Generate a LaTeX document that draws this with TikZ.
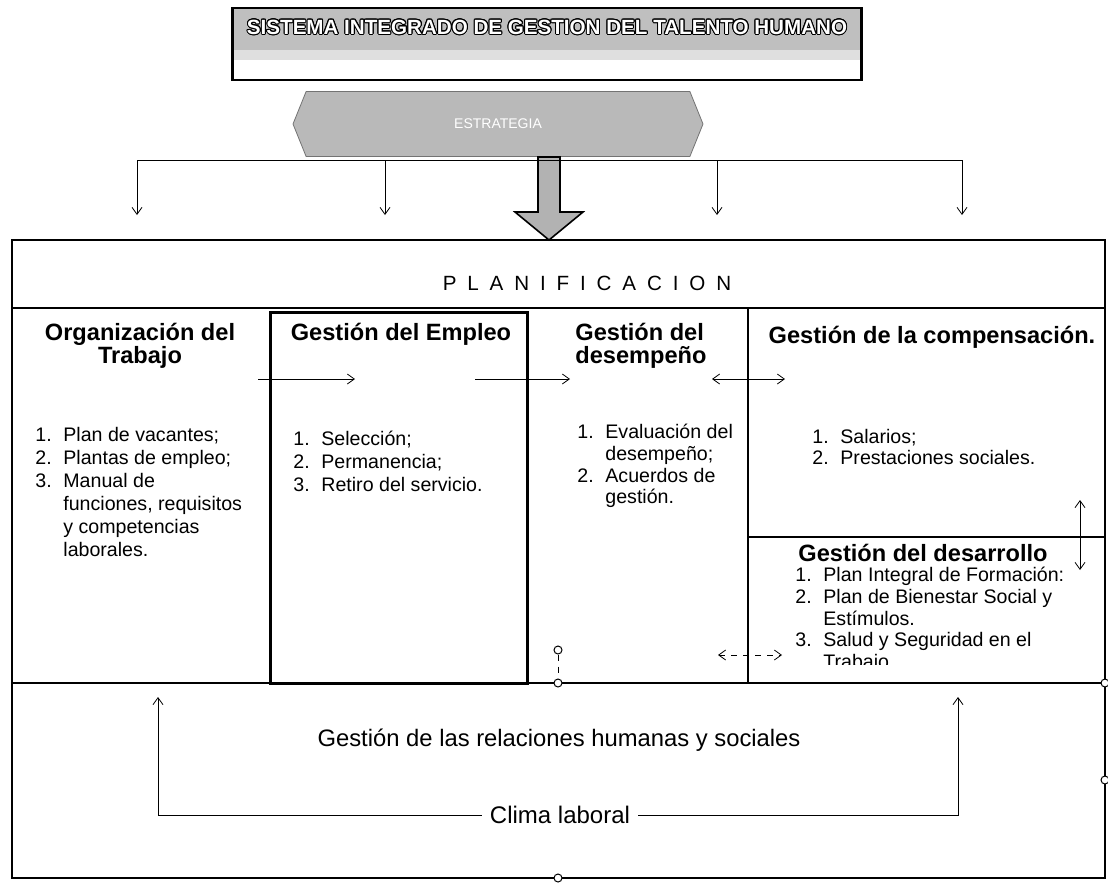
\documentclass[tikz,border=0pt]{standalone}
\usepackage{fontspec}
\setmainfont{Liberation Sans}
\newfontfamily\largofont[WordSpace=1.9]{Liberation Sans}
\usepackage{contour}
\contourlength{0.5pt}
\usetikzlibrary{arrows.meta,positioning,shapes.symbols}
\newcommand{\numlista}[1]{\makebox[14pt][l]{#1}}
\newcommand{\recuo}{\hspace*{14pt}}

\begin{document}
\begin{tikzpicture}[x=0.5pt, y=-0.5pt, > = {Straight Barb[length=3.5pt,width=5pt]}]
    \tikzstyle{caixa}=[draw, line width=1pt]
    \tikzstyle{titulo}=[font=\fontsize{11.8}{11.5}\selectfont\bfseries, align=center, inner sep=0pt]
    \tikzstyle{lista}=[font=\fontsize{9.8}{11.5}\selectfont, anchor=north west, inner sep=0pt, align=left]
    \tikzstyle{seta}=[->, line width=0.4pt]
    \tikzstyle{alca}=[circle, draw, fill=white, inner sep=0pt, minimum size=4pt, line width=0.5pt]

    \useasboundingbox (0,0) rectangle (1108,885);

    % Nós
    \node[draw, line width=1.2pt, fill=white, minimum width=314.5pt, minimum height=36pt, inner sep=0pt,
        path picture={\fill[gray!50] (path picture bounding box.north west) rectangle ([yshift=-3pt]path picture bounding box.east);
                      \fill[gray!25] ([yshift=-3pt]path picture bounding box.west) rectangle ([yshift=-8pt]path picture bounding box.east);}] (sistema) at (547,44) {};
    \node[below=3pt of sistema.north, text=white, font=\fontsize{10.3}{12}\selectfont\bfseries] (sistematxt) {\contour{black}{SISTEMA INTEGRADO DE GESTION DEL TALENTO HUMANO}};
    \node[signal, signal to=west and east, signal pointer angle=136, draw=black!55, fill=gray!55, minimum width=205pt, minimum height=32.5pt, inner sep=0pt, text=white, font=\fontsize{7}{8}\selectfont] (estrategia) at (498,124) {ESTRATEGIA};

    % Seta larga
    \draw[fill=gray!60, line width=0.8pt] (538,157) -- (538,212) -- (515,212) -- (549,240) -- (583,212) -- (560,212) -- (560,157) -- cycle;

    % Setas de cima
    \draw[line width=0.4pt] (137,160) -- (962,160);
    \foreach \x/\n in {137/a,385/b,717/c,962/d}{
        \coordinate (cima\n) at (\x,160);
        \coordinate (baixo\n) at (\x,215);
        \draw[seta] (cima\n) -- (baixo\n);
    }

    % Caixas
    \draw[caixa] (12,240) rectangle (1105,878);
    \draw[caixa] (12,308) -- (1105,308);
    \draw[caixa] (12,683) -- (1105,683);
    \draw[draw, line width=1.5pt] (270,312) rectangle (527,683);
    \draw[caixa] (748,308) -- (748,683);
    \draw[caixa] (748,537) -- (1105,537);

    % Textos
    \node[font=\largofont\fontsize{10.3}{12}\selectfont] (planificacion) at (587,283) {P L A N I F I C A C I O N};

    \node[titulo] (organizacion) at (140,346) {Organización del\\Trabajo};
    \node[titulo] (empleo) at (401,334) {Gestión del Empleo};
    \node[titulo, anchor=west, align=left] (desempeno) at (575,346) {Gestión del\\desempeño};
    \node[titulo] (compensacion) at (932,337) {Gestión de la compensación.};
    \node[titulo] (desarrollo) at (923,553) {Gestión del desarrollo};

    \node[lista] (listaorg) at (35,427) {\numlista{1.}Plan de vacantes;\\
        \numlista{2.}Plantas de empleo;\\
        \numlista{3.}Manual de\\
        \recuo funciones, requisitos\\
        \recuo y competencias\\
        \recuo laborales.};
    \node[lista] (listaemp) at (293,431) {\numlista{1.}Selección;\\
        \numlista{2.}Permanencia;\\
        \numlista{3.}Retiro del servicio.};
    \node[lista, font=\fontsize{9.8}{10.8}\selectfont] (listades) at (577,424) {\numlista{1.}Evaluación del\\
        \recuo desempeño;\\
        \numlista{2.}Acuerdos de\\
        \recuo gestión.};
    \node[lista, font=\fontsize{9.8}{10.6}\selectfont] (listacomp) at (812,429) {\numlista{1.}Salarios;\\
        \numlista{2.}Prestaciones sociales.};
    \begin{scope}
        \clip (748,540) rectangle (1105,664);
        \node[lista, font=\fontsize{9.8}{10.8}\selectfont] (listadesa) at (795,567) {\numlista{1.}Plan Integral de Formación:\\
            \numlista{2.}Plan de Bienestar Social y\\
            \recuo Estímulos.\\
            \numlista{3.}Salud y Seguridad en el\\
            \recuo Trabajo};
    \end{scope}

    \node[font=\fontsize{11.9}{14}\selectfont] (relaciones) at (559,740) {Gestión de las relaciones humanas y sociales};
    \node[font=\fontsize{12}{14}\selectfont, inner sep=4pt] (clima) at (560,815) {Clima laboral};

    % Setas do meio
    \coordinate (o1) at (258,379);
    \coordinate (o2) at (355,379);
    \coordinate (e1) at (475,379);
    \coordinate (e2) at (570,379);
    \coordinate (d1) at (712,379);
    \coordinate (d2) at (785,379);
    \coordinate (v1) at (1080,500);
    \coordinate (v2) at (1080,570);
    \coordinate (s1) at (718,655);
    \coordinate (s2) at (782,655);
    \coordinate (climae) at (158,697);
    \coordinate (climad) at (958,697);
    \draw[seta] (o1) -- (o2);
    \draw[seta] (e1) -- (e2);
    \draw[seta, <->] (d1) -- (d2);
    \draw[seta, <->] (v1) -- (v2);
    \draw[seta, <->, dashed] (s1) -- (s2);
    \draw[seta] (clima.west) -| (climae);
    \draw[seta] (clima.east) -| (climad);

    % Alças
    \node[alca] (h1) at (558,683) {};
    \node[alca] (h2) at (558,878) {};
    \node[alca] (h3) at (1105,683) {};
    \node[alca] (h4) at (1105,780) {};
    \node[alca] (giro) at (558,650) {};
    \draw[dashed, line width=0.3pt] (giro) -- (h1);
\end{tikzpicture}
\end{document}
